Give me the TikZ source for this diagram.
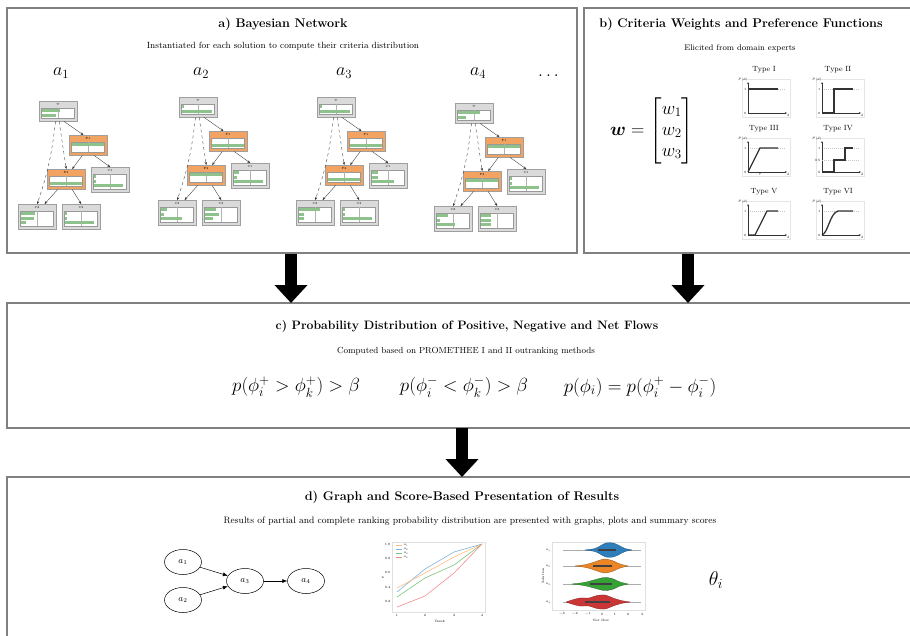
\RequirePackage{fix-cm}
\documentclass[tikz,border=0pt]{standalone}
\usepackage{amsmath}
\usepackage{amssymb}
\usetikzlibrary{arrows.meta,shapes.geometric}

\definecolor{panelgray}{HTML}{808080}
\definecolor{bngray}{HTML}{DADADA}
\definecolor{bnorange}{HTML}{F2A261}
\definecolor{bngreen}{HTML}{8DC28D}
\definecolor{curvegray}{HTML}{333333}
\definecolor{plblue}{HTML}{7DB2DC}
\definecolor{plorange}{HTML}{FFBA7C}
\definecolor{plgreen}{HTML}{7CC47C}
\definecolor{plred}{HTML}{F08C8C}
\definecolor{vblue}{HTML}{2E7EBB}
\definecolor{vorange}{HTML}{EC8526}
\definecolor{vgreen}{HTML}{36A136}
\definecolor{vred}{HTML}{CC3535}

\tikzset{
  panel/.style={draw=panelgray, line width=1.2pt},
  paneltitle/.style={font=\bfseries\fontsize{12.6}{15}\selectfont},
  panelsub/.style={font=\fontsize{9}{10}\selectfont},
  bigarrow/.style={line width=12pt, -{Triangle[width=32pt,length=18pt]}},
  alabel/.style={font=\fontsize{18}{20}\selectfont},
  formula/.style={font=\fontsize{19}{22}\selectfont},
  bnbox/.style={draw=gray!75, line width=0.5pt, rectangle, minimum width=38pt, inner sep=0pt},
  bntxt/.style={font=\fontsize{3}{3}\selectfont, inner sep=0pt},
  bnedge/.style={gray!40!black, line width=0.35pt, -{Stealth[length=3pt,width=2.4pt]}},
  smalltxt/.style={font=\fontsize{3.2}{3.2}\selectfont, inner sep=0.4pt},
  pftitle/.style={font=\fontsize{7.5}{8}\selectfont},
  pfaxis/.style={black!80, line width=0.4pt, -{Stealth[length=2.2pt,width=1.8pt]}},
  pfguide/.style={gray!45, dashed, line width=0.3pt, dash pattern=on 1pt off 1pt},
  pfcurve/.style={curvegray, line width=1.3pt},
  plotframe/.style={draw=gray!25, line width=0.4pt},
  gnode/.style={ellipse, draw, line width=0.5pt, minimum width=37pt, minimum height=25pt, inner sep=0pt, font=\fontsize{9}{9}\selectfont},
  garrow/.style={line width=0.5pt, -{Latex[length=5pt,width=4pt]}}
}

% one node of the small bayesian networks
\newcommand{\bnnode}[6]{%
  \node[bnbox, fill=#3, minimum height=#5pt, anchor=north west] (#1) at #2 {};
  \begin{scope}[shift={#2}]
    \node[bntxt] at (19,3.5) {#4};
    \filldraw[fill=white, draw=gray!80, line width=0.3pt] (2.5,7) rectangle (35.5,#5-3);
    \draw[gray!60, line width=0.2pt] (19,7) -- (19,#5-3);
    \foreach \fr [count=\rw] in {#6}
      \fill[bngreen] (3,3.6+4.5*\rw) rectangle ++(32*\fr,3.3);
  \end{scope}}

% one preference function
\newcommand{\prefplot}[5]{%
  \begin{scope}[shift={(#1,#2)}, yscale=-1]
    \draw[gray!20, line width=0.3pt] (-6,-4) rectangle (42,34);
    \node[pftitle] at (16,43) {#3};
    \draw[pfguide] (0,24) -- (38,24);
    \draw[pfaxis] (0,0) -- (0,31);
    \draw[pfaxis] (0,0) -- (39,0);
    \node[smalltxt, anchor=east] at (-1,24) {1};
    \node[smalltxt, anchor=east] at (-1,0) {0};
    \node[smalltxt, anchor=south east] at (0,31) {$P(d)$};
    \node[smalltxt, anchor=north] at (40,-1) {$d$};
    #5
    \draw[pfcurve] #4;
  \end{scope}}

% one violin of the net flow plot
\newcommand{\violin}[3]{%
  \begin{scope}[shift={(0,#1)}]
    \foreach \sg in {1,-1}
      \filldraw[fill=#2, draw=#2!60!black, line width=0.3pt, yscale=\sg] plot[smooth] coordinates {#3};
  \end{scope}}

\begin{document}
\begin{tikzpicture}[x=1pt, y=-1pt]
\useasboundingbox (0,0) rectangle (910,635);

% panels
\draw[panel] (7,8) rectangle (577,253);
\draw[panel] (912,8) -- (584,8) -- (584,253) -- (912,253);
\draw[panel] (912,303) -- (7,303) -- (7,428) -- (912,428);
\draw[panel] (912,477) -- (7,477) -- (7,640);

% arrows between panels
\coordinate (aout) at (291,254);
\coordinate (cinl) at (291,303);
\coordinate (bout) at (688,254);
\coordinate (cinr) at (688,303);
\coordinate (cout) at (462,428);
\coordinate (din) at (462,477);
\draw[bigarrow] (aout) -- (cinl);
\draw[bigarrow] (bout) -- (cinr);
\draw[bigarrow] (cout) -- (din);

%%% a) bayesian network
\node[paneltitle] (ta) at (283,24) {a) Bayesian Network};
\node[panelsub] (sa) at (283,46) {Instantiated for each solution to compute their criteria distribution};
\node[alabel] (la1) at (61,73) {$a_1$};
\node[alabel] (la2) at (201,73) {$a_2$};
\node[alabel] (la3) at (344,73) {$a_3$};
\node[alabel] (la4) at (478,73) {$a_4$};
\node[alabel] (ldots) at (550,76) {$\dots$};

\begin{scope}[shift={(39,101)}]
  \bnnode{t1}{(0,0)}{bngray}{T}{20}{0.55,0.45}
  \bnnode{fa1}{(30,34)}{bnorange}{F1}{20}{1,0}
  \bnnode{fb1}{(8,68)}{bnorange}{F2}{20}{0,1}
  \bnnode{ca1}{(52,66)}{bngray}{C1}{25}{0.05,0.05,0.9}
  \bnnode{cb1}{(-21,103)}{bngray}{C2}{25}{0.45,0.4,0.15}
  \bnnode{cc1}{(23,103)}{bngray}{C3}{25}{0.05,0.05,0.9}
  \draw[bnedge] (t1.-60) -- (fa1.115);
  \draw[bnedge, dashed] (t1.-85) -- (fb1.north);
  \draw[bnedge, dashed] (t1.-105) to[bend left=6] (cb1.north);
  \draw[bnedge] (fa1.-120) -- (fb1.60);
  \draw[bnedge] (fa1.-60) -- (ca1.north);
  \draw[bnedge] (fb1.-130) -- (cb1.60);
  \draw[bnedge] (fb1.-60) -- (cc1.north);
\end{scope}

\begin{scope}[shift={(179,97)}]
  \bnnode{t2}{(0,0)}{bngray}{T}{20}{0.05,0.95}
  \bnnode{fa2}{(30,34)}{bnorange}{F1}{20}{0,1}
  \bnnode{fb2}{(8,68)}{bnorange}{F2}{20}{1,0}
  \bnnode{ca2}{(52,66)}{bngray}{C1}{25}{0.15,0.1,0.9}
  \bnnode{cb2}{(-21,103)}{bngray}{C2}{25}{0.2,0.1,0.65}
  \bnnode{cc2}{(23,103)}{bngray}{C3}{25}{0.35,0.45,0.25}
  \draw[bnedge] (t2.-60) -- (fa2.115);
  \draw[bnedge, dashed] (t2.-85) -- (fb2.north);
  \draw[bnedge, dashed] (t2.-105) to[bend left=6] (cb2.north);
  \draw[bnedge] (fa2.-120) -- (fb2.60);
  \draw[bnedge] (fa2.-60) -- (ca2.north);
  \draw[bnedge] (fb2.-130) -- (cb2.60);
  \draw[bnedge] (fb2.-60) -- (cc2.north);
\end{scope}

\begin{scope}[shift={(317,97)}]
  \bnnode{t3}{(0,0)}{bngray}{T}{20}{0.05,0.95}
  \bnnode{fa3}{(30,34)}{bnorange}{F1}{20}{0,1}
  \bnnode{fb3}{(8,68)}{bnorange}{F2}{20}{0,1}
  \bnnode{ca3}{(52,66)}{bngray}{C1}{25}{0.2,0.2,0.7}
  \bnnode{cb3}{(-21,103)}{bngray}{C2}{25}{0.65,0.15,0.15}
  \bnnode{cc3}{(23,103)}{bngray}{C3}{25}{0.05,0.05,0.9}
  \draw[bnedge] (t3.-60) -- (fa3.115);
  \draw[bnedge, dashed] (t3.-85) -- (fb3.north);
  \draw[bnedge, dashed] (t3.-105) to[bend left=6] (cb3.north);
  \draw[bnedge] (fa3.-120) -- (fb3.60);
  \draw[bnedge] (fa3.-60) -- (ca3.north);
  \draw[bnedge] (fb3.-130) -- (cb3.60);
  \draw[bnedge] (fb3.-60) -- (cc3.north);
\end{scope}

\begin{scope}[shift={(455,103)}]
  \bnnode{t4}{(0,0)}{bngray}{T}{20}{0.7,0.25}
  \bnnode{fa4}{(30,34)}{bnorange}{F1}{20}{1,0}
  \bnnode{fb4}{(8,68)}{bnorange}{F2}{20}{1,0}
  \bnnode{ca4}{(52,66)}{bngray}{C1}{25}{0.05,0.05,0.9}
  \bnnode{cb4}{(-21,103)}{bngray}{C2}{25}{0.35,0.1,0.55}
  \bnnode{cc4}{(23,103)}{bngray}{C3}{25}{0.3,0.3,0.3}
  \draw[bnedge] (t4.-60) -- (fa4.115);
  \draw[bnedge, dashed] (t4.-85) -- (fb4.north);
  \draw[bnedge, dashed] (t4.-105) to[bend left=6] (cb4.north);
  \draw[bnedge] (fa4.-120) -- (fb4.60);
  \draw[bnedge] (fa4.-60) -- (ca4.north);
  \draw[bnedge] (fb4.-130) -- (cb4.60);
  \draw[bnedge] (fb4.-60) -- (cc4.north);
\end{scope}

%%% b) weights and preference functions
\node[paneltitle] (tb) at (741,24) {b) Criteria Weights and Preference Functions};
\node[panelsub, font=\fontsize{8.2}{10}\selectfont] (sb) at (740,48) {Elicited from domain experts};
\node[font=\fontsize{18.5}{21}\selectfont] (wvec) at (652,131)
  {$\boldsymbol{w} = \begin{bmatrix} w_1\\ w_2\\ w_3 \end{bmatrix}$};

\prefplot{748}{113}{Type I}{(0,24) -- (30,24)}{}
\prefplot{822}{113}{Type II}{(0,0) -- (12,0) -- (12,24) -- (31,24)}{}
\prefplot{748}{172}{Type III}{(0,0) -- (12,24) -- (30,24)}%
  {\node[smalltxt, anchor=north] at (12,-1) {$p$};}
\prefplot{822}{172}{Type IV}{(0,0) -- (12,0) -- (12,12) -- (23,12) -- (23,24) -- (31,24)}%
  {\draw[pfguide] (0,12) -- (38,12); \node[smalltxt, anchor=east] at (-1,12) {0.5};}
\prefplot{748}{235}{Type V}{(0,0) -- (7,0) -- (19,24) -- (30,24)}{}
\prefplot{822}{235}{Type VI}{(0,0) .. controls (6,2) and (8,22) .. (16,24) -- (31,24)}{}

%%% c) flows
\node[paneltitle, font=\bfseries\fontsize{12.2}{14}\selectfont] (tc) at (467,326)
  {c) Probability Distribution of Positive, Negative and Net Flows};
\node[panelsub, font=\fontsize{8.8}{10}\selectfont] (sc) at (466,351)
  {Computed based on PROMETHEE I and II outranking methods};
\node[formula] (f1) at (296,387) {$p(\phi_i^+ > \phi_k^+) > \beta$};
\node[formula] (f2) at (464,387) {$p(\phi_i^- < \phi_k^-) > \beta$};
\node[formula] (f3) at (640,387) {$p(\phi_i) = p(\phi_i^+ - \phi_i^-)$};

%%% d) results
\node[paneltitle] (td) at (462,497)
  {d) Graph and Score-Based Presentation of Results};
\node[panelsub, font=\fontsize{9.3}{10}\selectfont] (sd) at (470,521)
  {Results of partial and complete ranking probability distribution are presented with graphs, plots and summary scores};

% ranking graph
\node[gnode] (g1) at (183,562) {$a_1$};
\node[gnode] (g2) at (183,600) {$a_2$};
\node[gnode] (g3) at (245,581) {$a_3$};
\node[gnode] (g4) at (306,581) {$a_4$};
\draw[garrow] (g1) -- (g3);
\draw[garrow] (g2) -- (g3);
\draw[garrow] (g3) -- (g4);

% cumulative rank plot
\draw[plotframe] (392,542) rectangle (485,612);
\foreach \xv/\lab in {397/1, 425/2, 454/3, 482/4}
  \node[smalltxt] at (\xv,615.5) {\lab};
\foreach \yv/\lab in {544/1.0, 558/0.8, 572/0.6, 587/0.4, 601/0.2}
  \node[smalltxt, anchor=east] at (391,\yv) {\lab};
\node[smalltxt] (rank) at (440,621) {Rank};
\node[smalltxt, rotate=90] (pax) at (383,577) {$p$};
\draw[plblue, line width=0.6pt] (397,592) -- (425,569) -- (454,552) -- (482,544);
\draw[plorange, line width=0.6pt] (397,588) -- (425,573) -- (454,557) -- (482,544);
\draw[plgreen, line width=0.6pt] (397,597) -- (425,578) -- (454,565) -- (482,544);
\draw[plred, line width=0.6pt] (397,607) -- (425,596) -- (454,573) -- (482,544);
\foreach \yv/\col/\lab in {545/plorange/1, 549/plblue/2, 553/plgreen/3, 557/plred/4} {
  \draw[\col, line width=0.7pt] (396,\yv) -- (402,\yv);
  \node[smalltxt, anchor=west] at (403,\yv) {$a_\lab$};
}

% net flow violins
\draw[plotframe] (552,542) rectangle (645,610);
\foreach \yv in {550,566,584,602}
  \draw[gray!65, line width=0.6pt] (563,\yv) -- (641,\yv);
\violin{550}{vblue}{(585,0) (595,1.5) (601,4.5) (606,7) (613,7) (619,4.5) (625,1.5) (632,0)}
\violin{566}{vorange}{(575,0) (586,1.5) (596,4.5) (604,7) (612,5.5) (620,2) (628,0)}
\violin{584}{vgreen}{(572,0) (584,1.5) (594,4) (604,6.5) (612,5.5) (620,2) (628,0)}
\violin{602}{vred}{(566,0) (572,2) (580,4) (589,4) (597,6.5) (605,7) (613,4) (621,1.5) (630,0)}
\foreach \yv/\qa/\qb in {550/598/616, 566/593/612, 584/590/612, 602/585/610} {
  \draw[black!75, line width=1.3pt] (\qa,\yv) -- (\qb,\yv);
}
\foreach \xv/\lab in {562/-3, 575/-2, 588/-1, 602/0, 615/1, 628/2, 642/3}
  \node[smalltxt] at (\xv,614) {$\lab$};
\foreach \yv/\lab in {550/1, 566/2, 584/3, 602/4}
  \node[smalltxt, anchor=east] at (551,\yv) {$a_\lab$};
\node[smalltxt] (netflow) at (601,620) {Net flow};
\node[smalltxt, rotate=90] (sol) at (543,576) {Solution};

% summary score
\node[font=\fontsize{20}{20}\selectfont] (theta) at (716,580) {$\theta_i$};
\end{tikzpicture}
\end{document}
